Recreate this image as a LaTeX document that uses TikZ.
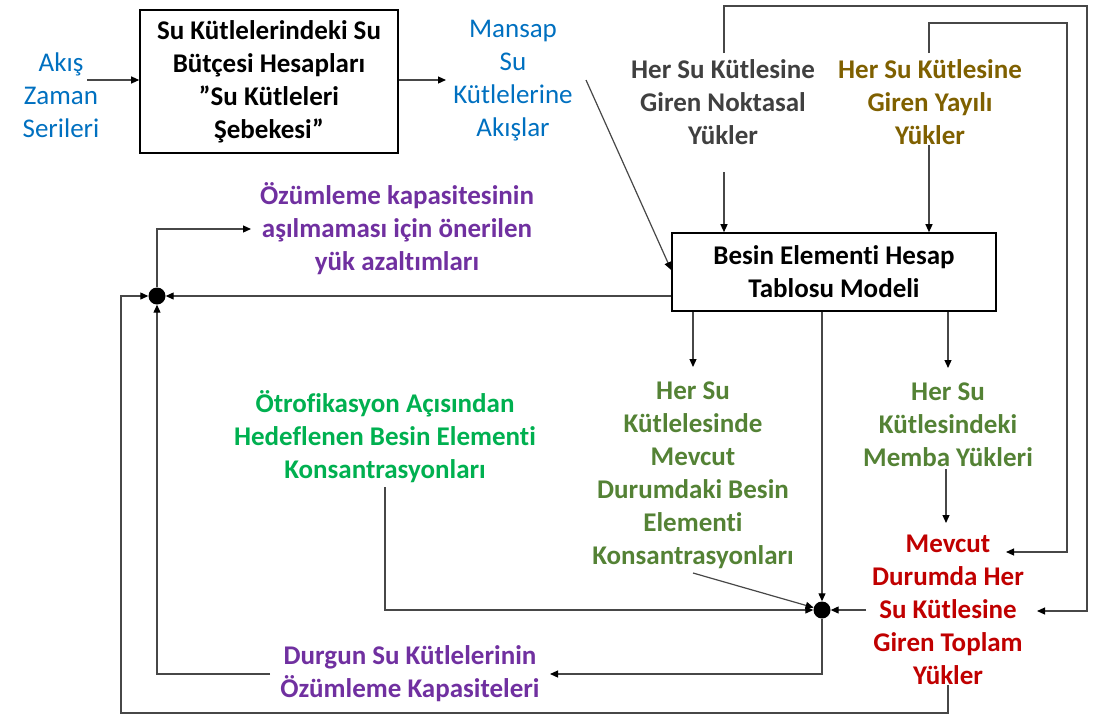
\documentclass[tikz,border=0pt]{standalone}
\usepackage{fontspec}
\setmainfont{Carlito}[Ligatures=NoCommon]
\usetikzlibrary{arrows.meta}
\definecolor{cblue}{HTML}{0070C0}
\definecolor{cgray}{HTML}{404040}
\definecolor{colive}{HTML}{7F6000}
\definecolor{cpurple}{HTML}{7030A0}
\definecolor{cgreen}{HTML}{00B050}
\definecolor{cdgreen}{HTML}{548235}
\definecolor{cred}{HTML}{C00000}
\begin{document}
\begin{tikzpicture}[x=1pt,y=-1pt,
  txt/.style={align=center, inner sep=0pt, font=\fontsize{27}{33}\selectfont\bfseries},
  reg/.style={align=center, inner sep=0pt, font=\fontsize{27}{33}\selectfont},
  boxed/.style={draw=black, line width=1.6pt, inner sep=0pt, align=center, font=\fontsize{27}{33}\selectfont\bfseries},
  conn/.style={draw=black!72, line width=1.2pt},
  arr/.style={conn, -{Triangle[length=8pt,width=7pt,color=black]}},
  dot/.style={circle, fill=black, minimum size=17pt, inner sep=0pt}]
\useasboundingbox (0,0) rectangle (1102,715);

% text nodes
\node[reg, text=cblue] (akis) at (61,95) {Akış\\Zaman\\Serileri};
\node[boxed, minimum width=258pt, minimum height=143pt] (subox) at (269,81.5) {Su Kütlelerindeki Su\\Bütçesi Hesapları\\”Su Kütleleri\\Şebekesi”};
\node[reg, text=cblue] (mansap) at (513,80.5) {Mansap\\Su\\Kütlelerine\\Akışlar};
\node[txt, text=cgray] (nokta) at (723,102.5) {Her Su Kütlesine\\Giren Noktasal\\Yükler};
\node[txt, text=colive] (yayili) at (930,102.5) {Her Su Kütlesine\\Giren Yayılı\\Yükler};
\node[boxed, minimum width=324pt, minimum height=78pt] (besin) at (834,272) {Besin Elementi Hesap\\Tablosu Modeli};
\node[txt, text=cpurple] (ozum) at (397,228.5) {Özümleme kapasitesinin\\aşılmaması için önerilen\\yük azaltımları};
\node[txt, text=cgreen] (otro) at (385,437) {Ötrofikasyon Açısından\\Hedeflenen Besin Elementi\\Konsantrasyonları};
\node[txt, text=cdgreen] (mkons) at (693,475) {Her Su\\Kütlelesinde\\Mevcut\\Durumdaki Besin\\Elementi\\Konsantrasyonları};
\node[txt, text=cdgreen] (memba) at (948,424.5) {Her Su\\Kütlesindeki\\Memba Yükleri};
\node[txt, text=cred] (toplam) at (948,610) {Mevcut\\Durumda Her\\Su Kütlesine\\Giren Toplam\\Yükler};
\node[txt, text=cpurple] (durgun) at (410,674) {Durgun Su Kütlelerinin\\Özümleme Kapasiteleri};

% junctions
\node[dot] (c1) at (157,296) {};
\node[dot] (c2) at (822,610) {};

% free ends
\coordinate (a1) at (87,80);
\coordinate (m1) at (446,80);
\coordinate (ms) at (586,80);
\coordinate (n1) at (724,53);
\coordinate (n2) at (724,172);
\coordinate (y1) at (929,53);
\coordinate (y2) at (929,145);
\coordinate (t1) at (1006,552);
\coordinate (t2) at (1037,611);
\coordinate (mb1) at (946,469);
\coordinate (mb2) at (946,523);
\coordinate (k1) at (693,573);
\coordinate (o1) at (385,487);
\coordinate (tp1) at (866,610);
\coordinate (tp2) at (948,685);
\coordinate (d1) at (550,674);
\coordinate (d2) at (270,674);
\coordinate (oz1) at (251,229);
\coordinate (k2) at (693,367);
\coordinate (mb0) at (948,368);

% connectors
\draw[arr] (a1) -- (subox.west |- a1);
\draw[arr] (subox.east |- m1) -- (m1);
\draw[arr] (ms) -- (besin.west |- 0,270);
\draw[arr] (n1) -- (724,6) -- (1087,6) -- (t2 -| 1087,0) -- (t2);
\draw[arr] (y1) -- (929,23) -- (1067,23) -- (t1 -| 1067,0) -- (t1);
\draw[arr] (n2) -- (besin.north -| n2);
\draw[arr] (y2) -- (besin.north -| y2);
\draw[arr] (besin.west |- c1) -- (c1);
\draw[arr] (besin.south -| k2) -- (k2);
\draw[arr] (besin.south -| mb0) -- (mb0);
\draw[arr] (besin.south -| c2) -- (c2);
\draw[arr] (mb1) -- (mb2);
\draw[arr] (tp1) -- (c2);
\draw[arr] (k1) -- (c2);
\draw[arr] (o1) -- (o1 |- c2) -- (c2);
\draw[arr] (c2) -- (c2 |- d1) -- (d1);
\draw[arr] (d2) -- (c1 |- d2) -- (c1);
\draw[arr] (tp2) -- (948,713) -- (121,713) -- (121,296) -- (c1);
\draw[arr] (c1) -- (c1 |- oz1) -- (oz1);
\end{tikzpicture}
\end{document}
